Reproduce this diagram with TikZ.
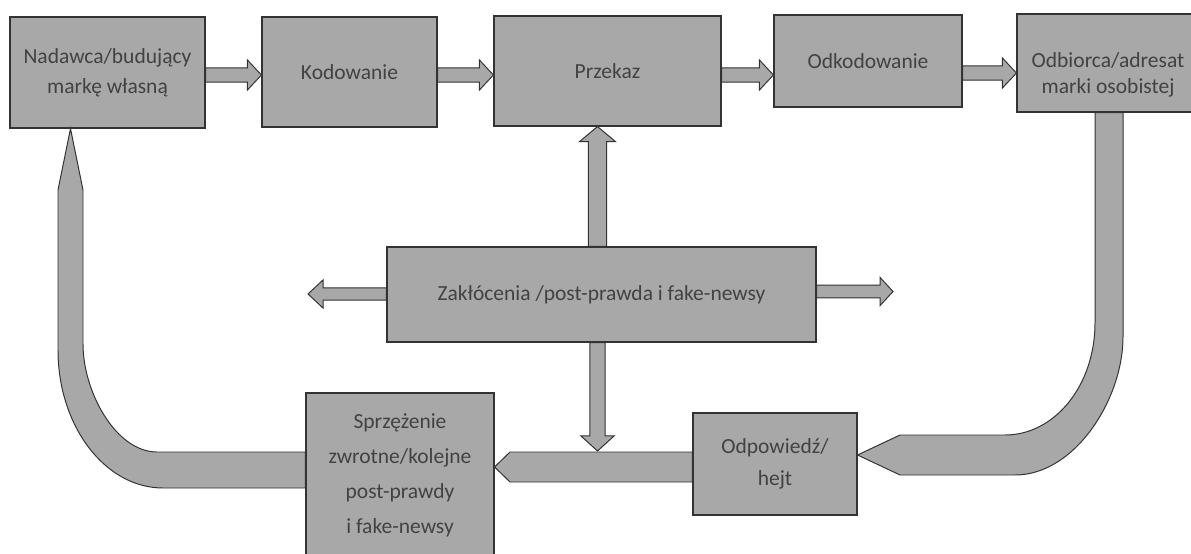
\documentclass[tikz,border=0pt]{standalone}
\usepackage{fontspec}
\setmainfont{Carlito}
\usetikzlibrary{calc}
\definecolor{boxgray}{RGB}{168,168,168}
\definecolor{txtgray}{RGB}{66,66,66}
\tikzset{
  box/.style={rectangle, draw=black!80, line width=0.8pt, fill=boxgray, text=txtgray,
              align=center, font=\fontsize{15.3}{18.4}\selectfont, inner sep=1pt},
  sz/.style 2 args={minimum width=#1*0.25mm, minimum height=#2*0.25mm},
  blk/.style={draw=black!80, line width=0.7pt, fill=boxgray, line join=miter},
}
% block arrow: #1 tail, #2 tip, #3 shaft half width, #4 head half width, #5 head length
\newcommand{\blkarrow}[5]{%
  \coordinate (ba-t) at #1;
  \coordinate (ba-p) at #2;
  \coordinate (ba-h) at ($(ba-p)!#5!(ba-t)$);
  \filldraw[blk] ($(ba-t)!#3!90:(ba-p)$) -- ($(ba-h)!#3!-90:(ba-t)$) -- ($(ba-h)!#4!-90:(ba-t)$)
    -- (ba-p) -- ($(ba-h)!#4!90:(ba-t)$) -- ($(ba-h)!#3!90:(ba-t)$) -- ($(ba-t)!#3!-90:(ba-p)$) -- cycle;}

\begin{document}
\begin{tikzpicture}[x=0.25mm,y=-0.25mm]
\useasboundingbox[fill=white] (0,0) rectangle (1191,554);

% ================= top row =================
\node[box, sz={195}{111}] (nad) at (107.5,72.5) {Nadawca/budujący\\[3pt]markę własną};
\node[box, sz={175}{110}] (kod) at (349.5,72) {Kodowanie};
\node[box, sz={227}{110}] (prz) at (607.5,71) {Przekaz};
\node[box, sz={188}{92}]  (odk) at (868,61) {Odkodowanie};
\node[box, sz={182}{98}]  (odb) at (1108,63) {};
\node[text=txtgray, align=center, font=\fontsize{15.3}{18.4}\selectfont] (odbtxt) at (1108,75)
  {Odbiorca/adresat\\marki osobistej};

% ================= middle and bottom =================
\node[box, sz={429}{95}]  (zak) at (601.5,294.5) {Zakłócenia /post-prawda i fake-newsy};
\node[box, sz={188}{164}] (spr) at (400,475)
  {Sprzężenie\\[6.5pt]zwrotne/kolejne\\[6.5pt]post-prawdy\\[6.5pt]i fake-newsy};
\node[box, sz={164}{102}] (odp) at (775,464) {Odpowiedź/\\[4.4pt]hejt};

% ================= top row arrows =================
\blkarrow{(nad.east |- 0,75)}{(kod.west |- 0,75)}{5pt}{10.7pt}{10pt}
\blkarrow{(kod.east |- 0,75)}{(prz.west |- 0,75)}{5pt}{10.7pt}{10pt}
\blkarrow{(prz.east |- 0,75)}{(odk.west |- 0,75)}{5pt}{10.7pt}{10pt}
\blkarrow{(odk.east |- 0,73)}{(odb.west |- 0,73)}{5pt}{10.7pt}{10pt}

% ================= arrows out of the noise box =================
\coordinate (zl) at (308,294);
\coordinate (zr) at (893,291.5);
\coordinate (fb) at (597.5,451);
\blkarrow{(zak.west |- zl)}{(zl)}{4.3pt}{10pt}{10.7pt}
\blkarrow{(zak.east |- zr)}{(zr)}{4.6pt}{10pt}{9.2pt}
\blkarrow{(zak.north -| fb)}{(prz.south -| fb)}{6.5pt}{12.8pt}{10.7pt}

% ================= feedback loop =================
% receiver -> response
\filldraw[blk] (odb.south -| 1095,0) -- (1095,323)
  .. controls (1095,385) and (1055,435) .. (1005,435) -- (900,435)
  -- (odp.east |- 0,455) -- (900,475) -- (1015,475)
  .. controls (1075,475) and (1123,399) .. (1123,337) -- (odb.south -| 1123,0) -- cycle;
% response -> feedback
\filldraw[blk] (odp.west |- 0,452) -- (510,452) -- (spr.east |- 0,467) -- (510,482)
  -- (odp.west |- 0,482) -- cycle;
\blkarrow{(zak.south -| fb)}{(fb)}{5.5pt}{11.8pt}{10.7pt}
% feedback -> sender
\filldraw[blk] (spr.west |- 0,452) -- (157,452)
  .. controls (116,452) and (83,392) .. (83,344) -- (83,190)
  -- (nad.south -| 70.5,0) -- (58,190) -- (58,350)
  .. controls (58,426) and (105,488) .. (163,488) -- (spr.west |- 0,488) -- cycle;

\end{tikzpicture}
\end{document}
